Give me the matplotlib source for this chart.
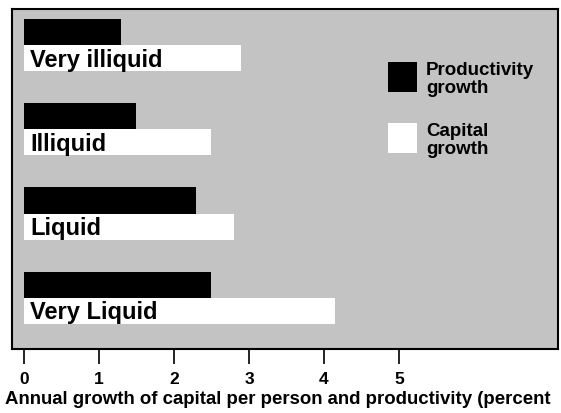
import matplotlib
matplotlib.use("Agg")
import matplotlib.pyplot as plt
from matplotlib.patches import Rectangle

categories = ["Very illiquid", "Illiquid", "Liquid", "Very Liquid"]
productivity = [1.3, 1.5, 2.3, 2.5]
capital = [2.9, 2.5, 2.8, 4.15]
xticks = [0, 1, 2, 3, 4, 5]
xlabel = "Annual growth of capital per person and productivity (percent"
legend_labels = ["Productivity\ngrowth", "Capital\ngrowth"]

plt.rcParams['font.family'] = ['Liberation Sans', 'DejaVu Sans']

W, H = 561, 414
fig = plt.figure(figsize=(W/100, H/100), dpi=100)
fig.patch.set_facecolor('white')
ax = fig.add_axes([12/W, 1 - 350/H, (558-12)/W, (350-10)/H])
ax.set_facecolor('#c3c3c3')

bh = 0.31
pos = list(range(len(categories)))
ax.barh([p - bh/2 for p in pos], productivity, height=bh, color='black', left=0)
ax.barh([p + bh/2 for p in pos], capital, height=bh, color='white', left=0)
for p, c in zip(pos, categories):
    ax.text(0.08, p + bh/2 + 0.01, c, fontsize=17, fontweight='bold', va='center', ha='left', color='black')

ax.set_xlim(-0.16, 7.12)
ax.set_ylim(3.61, -0.43)
ax.set_yticks([])
ax.set_xticks(xticks)
ax.set_xticklabels([str(t) for t in xticks], fontsize=12.5, fontweight='bold')
ax.tick_params(axis='x', direction='out', length=11, width=1.2, pad=5)
for s in ax.spines.values():
    s.set_linewidth(1.5)
    s.set_color('black')

# legend
for i, (lab, col) in enumerate(zip(legend_labels, ['black', 'white'])):
    y0 = 1 - (93 + i*61 - 10) / 340
    ax.add_patch(Rectangle(((388-12)/546, y0), 29/546, 30/340, transform=ax.transAxes,
                           facecolor=col, edgecolor='none', clip_on=False))
    ax.text((426-12)/546, y0 + 31/340, lab, transform=ax.transAxes, fontsize=13.5,
            fontweight='bold', va='top', ha='left', linespacing=1.08)

fig.text(5/W, 1 - 400/H, xlabel, fontsize=13.4, fontweight='bold', va='center', ha='left')

fig.savefig("out.png", dpi=100)
